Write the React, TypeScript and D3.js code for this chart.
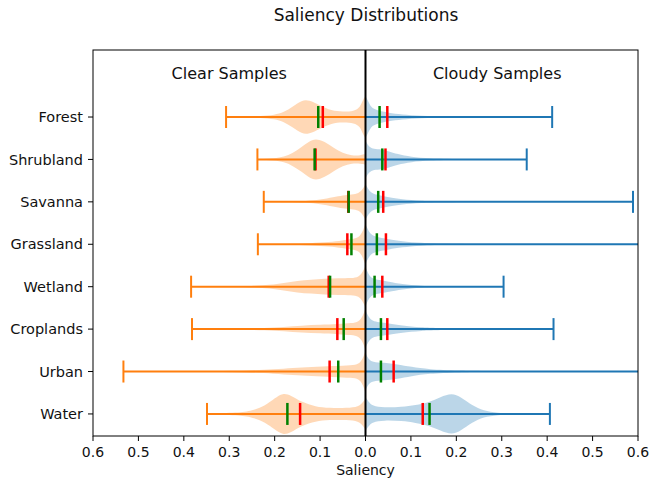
import * as d3 from "d3";

const categories = ["Forest", "Shrubland", "Savanna", "Grassland", "Wetland", "Croplands", "Urban", "Water"];

// clear samples (plotted to the left), magnitudes
const clearMax = [0.307, 0.238, 0.224, 0.237, 0.384, 0.382, 0.533, 0.349];
const clearMedian = [0.104, 0.112, 0.037, 0.031, 0.078, 0.048, 0.06, 0.172];
const clearMean = [0.094, 0.11, 0.038, 0.04, 0.081, 0.062, 0.079, 0.144];

// cloudy samples (plotted to the right)
const cloudyMax = [0.411, 0.355, 0.589, 0.65, 0.304, 0.414, 0.7, 0.406];
const cloudyMedian = [0.031, 0.037, 0.028, 0.025, 0.02, 0.034, 0.034, 0.141];
const cloudyMean = [0.048, 0.044, 0.039, 0.045, 0.037, 0.048, 0.062, 0.126];

// violin outlines: [value, relative half width]
const clearShapes: [number, number][][] = [
  [[0, 1.0], [0.005, 0.85], [0.012, 0.45], [0.025, 0.28], [0.05, 0.25], [0.075, 0.3], [0.1, 0.55], [0.125, 0.82], [0.14, 0.8], [0.16, 0.5], [0.18, 0.22], [0.2, 0.1], [0.23, 0.04], [0.27, 0.01], [0.307, 0]],
  [[0, 0.25], [0.01, 0.2], [0.03, 0.18], [0.05, 0.3], [0.07, 0.55], [0.09, 0.85], [0.11, 1.0], [0.125, 0.85], [0.14, 0.6], [0.16, 0.3], [0.18, 0.12], [0.2, 0.05], [0.238, 0]],
  [[0, 0.85], [0.006, 0.6], [0.015, 0.4], [0.03, 0.35], [0.05, 0.32], [0.07, 0.22], [0.1, 0.1], [0.13, 0.04], [0.17, 0.01], [0.224, 0]],
  [[0, 1.0], [0.006, 0.6], [0.015, 0.3], [0.03, 0.25], [0.05, 0.18], [0.08, 0.1], [0.12, 0.05], [0.17, 0.015], [0.237, 0]],
  [[0, 1.0], [0.006, 0.7], [0.015, 0.45], [0.03, 0.4], [0.06, 0.4], [0.09, 0.38], [0.12, 0.33], [0.15, 0.28], [0.18, 0.18], [0.21, 0.08], [0.25, 0.03], [0.3, 0.01], [0.384, 0]],
  [[0, 1.0], [0.006, 0.6], [0.015, 0.35], [0.03, 0.28], [0.06, 0.24], [0.1, 0.2], [0.14, 0.17], [0.18, 0.1], [0.22, 0.05], [0.28, 0.015], [0.382, 0]],
  [[0, 1.0], [0.006, 0.6], [0.015, 0.35], [0.03, 0.3], [0.07, 0.26], [0.12, 0.22], [0.16, 0.17], [0.2, 0.1], [0.26, 0.05], [0.33, 0.02], [0.42, 0.005], [0.533, 0]],
  [[0, 0.75], [0.006, 0.55], [0.015, 0.35], [0.04, 0.28], [0.08, 0.28], [0.11, 0.35], [0.14, 0.55], [0.165, 0.9], [0.182, 1.0], [0.2, 0.75], [0.22, 0.4], [0.25, 0.15], [0.28, 0.06], [0.349, 0]],
];

const cloudyShapes: [number, number][][] = [
  [[0, 1.0], [0.005, 0.8], [0.012, 0.45], [0.025, 0.32], [0.05, 0.2], [0.08, 0.12], [0.12, 0.06], [0.18, 0.02], [0.25, 0.005], [0.411, 0]],
  [[0, 0.9], [0.006, 0.65], [0.015, 0.5], [0.03, 0.5], [0.05, 0.4], [0.07, 0.25], [0.1, 0.12], [0.14, 0.05], [0.2, 0.015], [0.355, 0]],
  [[0, 0.85], [0.006, 0.6], [0.015, 0.38], [0.03, 0.32], [0.05, 0.22], [0.08, 0.12], [0.12, 0.05], [0.18, 0.015], [0.589, 0]],
  [[0, 0.95], [0.006, 0.65], [0.015, 0.4], [0.03, 0.33], [0.05, 0.25], [0.08, 0.14], [0.12, 0.06], [0.18, 0.02], [0.3, 0.005], [0.65, 0]],
  [[0, 0.95], [0.006, 0.6], [0.015, 0.38], [0.03, 0.32], [0.05, 0.25], [0.08, 0.12], [0.12, 0.04], [0.18, 0.01], [0.304, 0]],
  [[0, 0.9], [0.006, 0.6], [0.015, 0.38], [0.03, 0.32], [0.05, 0.28], [0.08, 0.17], [0.12, 0.08], [0.18, 0.03], [0.414, 0]],
  [[0, 0.9], [0.006, 0.6], [0.015, 0.45], [0.04, 0.42], [0.07, 0.35], [0.1, 0.22], [0.14, 0.1], [0.2, 0.04], [0.3, 0.01], [0.7, 0]],
  [[0, 0.8], [0.006, 0.6], [0.015, 0.38], [0.04, 0.3], [0.08, 0.33], [0.11, 0.42], [0.14, 0.55], [0.165, 0.8], [0.19, 1.0], [0.21, 0.8], [0.235, 0.4], [0.26, 0.15], [0.29, 0.05], [0.33, 0.01], [0.406, 0]],
];

const xTicks = [-0.6, -0.5, -0.4, -0.3, -0.2, -0.1, 0, 0.1, 0.2, 0.3, 0.4, 0.5, 0.6];

const ORANGE = "#ff7f0e";
const BLUE = "#1f77b4";
const FONT = "DejaVu Sans, sans-serif";

export default function App() {
  const width = 652;
  const height = 482;
  const left = 93;
  const right = 638;
  const top = 50;
  const bottom = 436;

  const x = d3.scaleLinear().domain([-0.6, 0.6]).range([left, right]);
  const y = d3.scaleLinear().domain([-1.58, 7.52]).range([top, bottom]);
  const halfW = 21;
  const capH = 11;

  const violin = (shape: [number, number][], i: number, sign: number) =>
    d3
      .area<[number, number]>()
      .x((d) => x(sign * d[0]))
      .y0((d) => y(i) - d[1] * halfW)
      .y1((d) => y(i) + d[1] * halfW)
      .curve(d3.curveBasis)(shape) || "";

  return (
    <svg width={width} height={height} style={{ position: "absolute", left: 0, top: 0 }} fontFamily={FONT} fill="#111">
      <rect width={width} height={height} fill="white" />
      <defs>
        <clipPath id="plot">
          <rect x={left} y={top} width={right - left} height={bottom - top} />
        </clipPath>
      </defs>
      <text x={366} y={21} textAnchor="middle" fontSize={17}>
        Saliency Distributions
      </text>
      <g clipPath="url(#plot)">
        {categories.map((c, i) => (
          <g key={c}>
            <path d={violin(clearShapes[i], i, -1)} fill={ORANGE} fillOpacity={0.3} />
            <path d={violin(cloudyShapes[i], i, 1)} fill={BLUE} fillOpacity={0.3} />
          </g>
        ))}
        {categories.map((c, i) => (
          <g key={c} strokeWidth={2}>
            <line x1={x(-clearMax[i])} x2={x(0)} y1={y(i)} y2={y(i)} stroke={ORANGE} />
            <line x1={x(-clearMax[i])} x2={x(-clearMax[i])} y1={y(i) - capH} y2={y(i) + capH} stroke={ORANGE} />
            <line x1={x(0)} x2={x(cloudyMax[i])} y1={y(i)} y2={y(i)} stroke={BLUE} />
            <line x1={x(cloudyMax[i])} x2={x(cloudyMax[i])} y1={y(i) - capH} y2={y(i) + capH} stroke={BLUE} />
            <line x1={x(-clearMean[i])} x2={x(-clearMean[i])} y1={y(i) - capH} y2={y(i) + capH} stroke="red" strokeWidth={2.5} />
            <line x1={x(-clearMedian[i])} x2={x(-clearMedian[i])} y1={y(i) - capH} y2={y(i) + capH} stroke="green" strokeWidth={2.5} />
            <line x1={x(cloudyMean[i])} x2={x(cloudyMean[i])} y1={y(i) - capH} y2={y(i) + capH} stroke="red" strokeWidth={2.5} />
            <line x1={x(cloudyMedian[i])} x2={x(cloudyMedian[i])} y1={y(i) - capH} y2={y(i) + capH} stroke="green" strokeWidth={2.5} />
          </g>
        ))}
      </g>
      <line x1={x(0)} x2={x(0)} y1={top} y2={bottom} stroke="black" strokeWidth={2} />
      <rect x={left} y={top} width={right - left} height={bottom - top} fill="none" stroke="black" strokeWidth={1} />
      <text x={x(-0.3)} y={79} textAnchor="middle" fontSize={16}>
        Clear Samples
      </text>
      <text x={x(0.29)} y={79} textAnchor="middle" fontSize={16}>
        Cloudy Samples
      </text>
      {categories.map((c, i) => (
        <g key={c}>
          <line x1={left - 5} x2={left} y1={y(i)} y2={y(i)} stroke="black" />
          <text x={left - 10} y={y(i)} dy="0.35em" textAnchor="end" fontSize={14.5}>
            {c}
          </text>
        </g>
      ))}
      {xTicks.map((t) => (
        <g key={t}>
          <line x1={x(t)} x2={x(t)} y1={bottom} y2={bottom + 5} stroke="black" />
          <text x={x(t)} y={457} textAnchor="middle" fontSize={14}>
            {d3.format(".1f")(Math.abs(t))}
          </text>
        </g>
      ))}
      <text x={x(0)} y={475} textAnchor="middle" fontSize={14}>
        Saliency
      </text>
    </svg>
  );
}
